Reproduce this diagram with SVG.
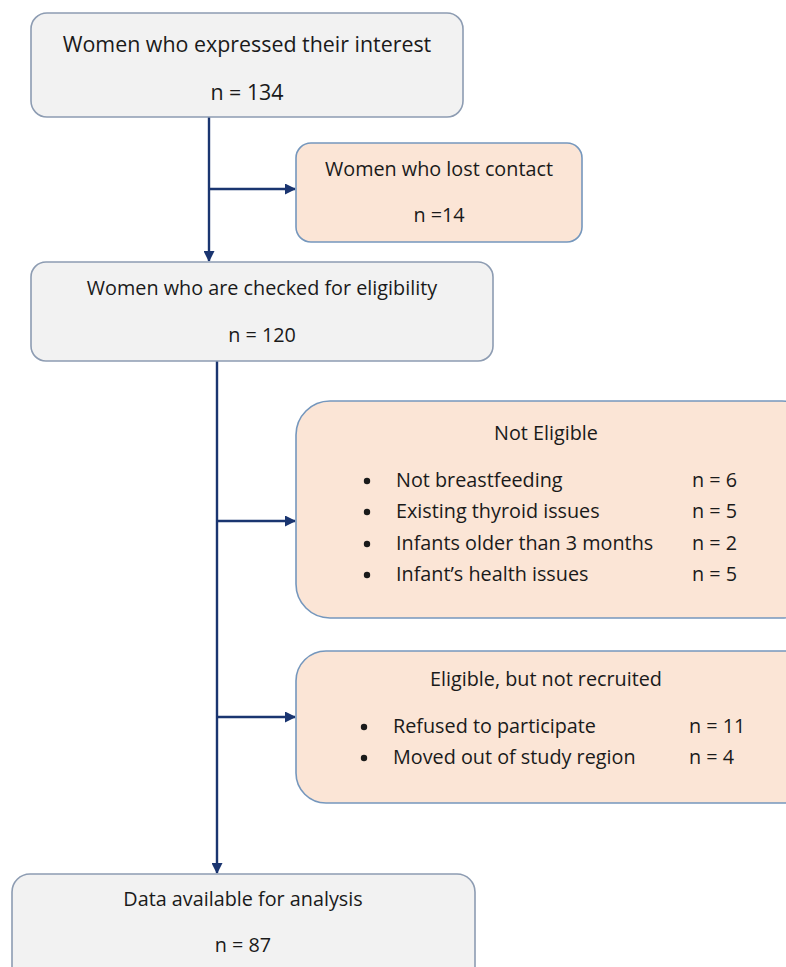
<svg xmlns="http://www.w3.org/2000/svg" width="786" height="967" viewBox="0 0 786 967">
<defs>
<style>
text{font-family:"Open Sans","Liberation Sans",Arial,sans-serif;font-size:19.8px;fill:#1a1a1a}
.c{text-anchor:middle}
.big{font-size:21.4px}
.gray{fill:#f2f2f2;stroke:#8d9cb2;stroke-width:1.6}
.peach{fill:#fbe5d6;stroke:#7597bd;stroke-width:1.6}
.con{stroke:#1a3570;stroke-width:2.4;fill:none}
</style>
<marker id="ah" markerWidth="11" markerHeight="11" refX="10" refY="5.5" orient="auto" markerUnits="userSpaceOnUse">
<path d="M0,0 L11,5.5 L0,11 z" fill="#1a3570"/>
</marker>
</defs>
<rect width="786" height="967" fill="#ffffff"/>
<g id="connectors">
<path class="con" d="M209,117 V261" marker-end="url(#ah)"/>
<path class="con" d="M209,189 H295" marker-end="url(#ah)"/>
<path class="con" d="M217,361 V873" marker-end="url(#ah)"/>
<path class="con" d="M217,521 H295" marker-end="url(#ah)"/>
<path class="con" d="M217,717 H295" marker-end="url(#ah)"/>
</g>
<g id="interest">
<rect class="gray" x="31" y="13" width="432" height="104" rx="16"/>
<text class="c big" x="247" y="52">Women who expressed their interest</text>
<text class="c big" x="247" y="100">n = 134</text>
</g>
<g id="lost">
<rect class="peach" x="296" y="143" width="286" height="99" rx="15"/>
<text class="c" x="439" y="176">Women who lost contact</text>
<text class="c" x="439" y="222">n =14</text>
</g>
<g id="checked">
<rect class="gray" x="31" y="262" width="462" height="99" rx="15"/>
<text class="c" x="262" y="295">Women who are checked for eligibility</text>
<text class="c" x="262" y="342">n = 120</text>
</g>
<g id="noteligible">
<rect class="peach" x="296" y="401" width="520" height="217" rx="34"/>
<text class="c" x="546" y="440">Not Eligible</text>
<circle cx="367" cy="481" r="3.2" fill="#1a1a1a"/><text x="396" y="487">Not breastfeeding</text><text x="692" y="487">n = 6</text>
<circle cx="367" cy="512" r="3.2" fill="#1a1a1a"/><text x="396" y="518">Existing thyroid issues</text><text x="692" y="518">n = 5</text>
<circle cx="367" cy="544" r="3.2" fill="#1a1a1a"/><text x="396" y="550">Infants older than 3 months</text><text x="692" y="550">n = 2</text>
<circle cx="367" cy="575" r="3.2" fill="#1a1a1a"/><text x="396" y="581">Infant’s health issues</text><text x="692" y="581">n = 5</text>
</g>
<g id="eligible">
<rect class="peach" x="296" y="651" width="520" height="152" rx="30"/>
<text class="c" x="546" y="686">Eligible, but not recruited</text>
<circle cx="364" cy="727" r="3.2" fill="#1a1a1a"/><text x="393" y="733">Refused to participate</text><text x="689" y="733">n = 11</text>
<circle cx="364" cy="758" r="3.2" fill="#1a1a1a"/><text x="393" y="764">Moved out of study region</text><text x="689" y="764">n = 4</text>
</g>
<g id="data">
<rect class="gray" x="12" y="874" width="463" height="120" rx="18"/>
<text class="c" x="243" y="906">Data available for analysis</text>
<text class="c" x="243" y="952">n = 87</text>
</g>
</svg>
